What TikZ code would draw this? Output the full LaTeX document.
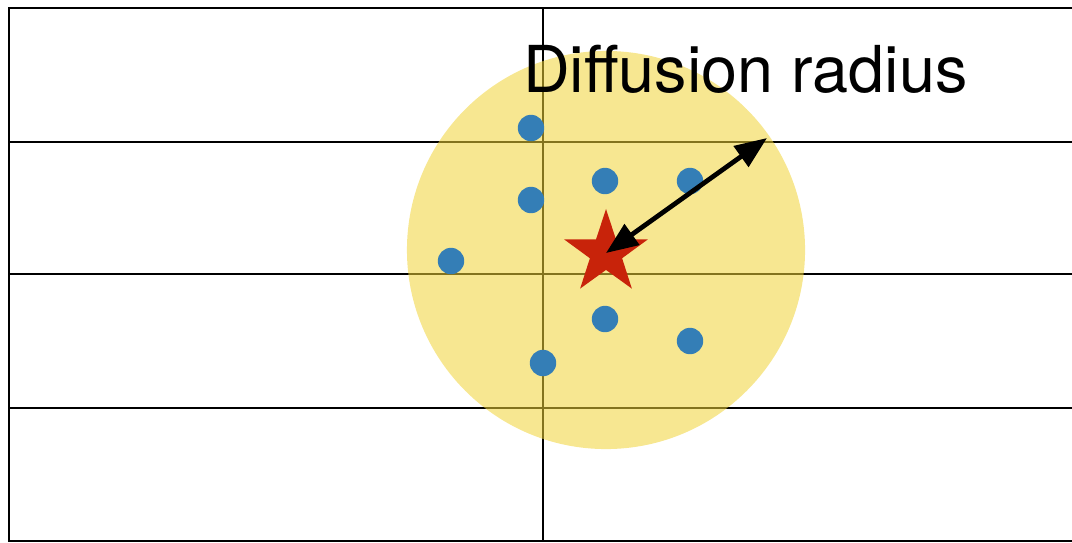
\documentclass[tikz,border=0pt]{standalone}
\usepackage{fontspec}
\setmainfont{TeX Gyre Heros}
\usetikzlibrary{shapes.geometric, arrows.meta, positioning}
\definecolor{zoneyellow}{RGB}{240,211,55}
\definecolor{pointblue}{RGB}{52,126,182}
\definecolor{sourcered}{RGB}{200,35,10}

\begin{document}
\begin{tikzpicture}[
    x=0.025cm, y=-0.025cm,
    grid/.style={draw=black, line width=2pt},
    zone/.style={circle, fill=zoneyellow, fill opacity=0.55, minimum size=9.95cm, inner sep=0pt},
    pt/.style={circle, fill=pointblue, minimum size=0.66cm, inner sep=0pt},
    src/.style={star, star points=5, star point ratio=2.6, fill=sourcered, minimum size=2.2cm, inner sep=0pt},
    arr/.style={{Triangle[length=0.8cm,width=0.62cm]}-{Triangle[length=0.8cm,width=0.62cm]}, line width=3.4pt},
    lbl/.style={font=\fontsize{46}{52}\selectfont, anchor=base west, inner sep=0pt}
]
    \useasboundingbox (0,0) rectangle (1072,542);

    % grid
    \draw[grid] (1072,8) -- (9,8) -- (9,541) -- (1072,541);
    \draw[grid] (9,142) -- (1072,142);
    \draw[grid] (9,274) -- (1072,274);
    \draw[grid] (9,408) -- (1072,408);
    \draw[grid] (543,8) -- (543,541);

    \node[zone] (zone) at (606,250) {};

    % sampled points
    \node[pt] (d1) at (531,128) {};
    \node[pt] (d2) at (531,200) {};
    \node[pt] (d3) at (451,261) {};
    \node[pt] (d4) at (605,181) {};
    \node[pt] (d5) at (690,181) {};
    \node[pt] (d6) at (605,319) {};
    \node[pt] (d7) at (690,341) {};
    \node[pt] (d8) at (543,363) {};

    \node[src] (source) at (606,253) {};
    \coordinate (rim) at (767,138);
    \draw[arr] (source.center) -- (rim);

    \node[lbl] (title) at (523,92) {Diffusion radius};
\end{tikzpicture}
\end{document}
